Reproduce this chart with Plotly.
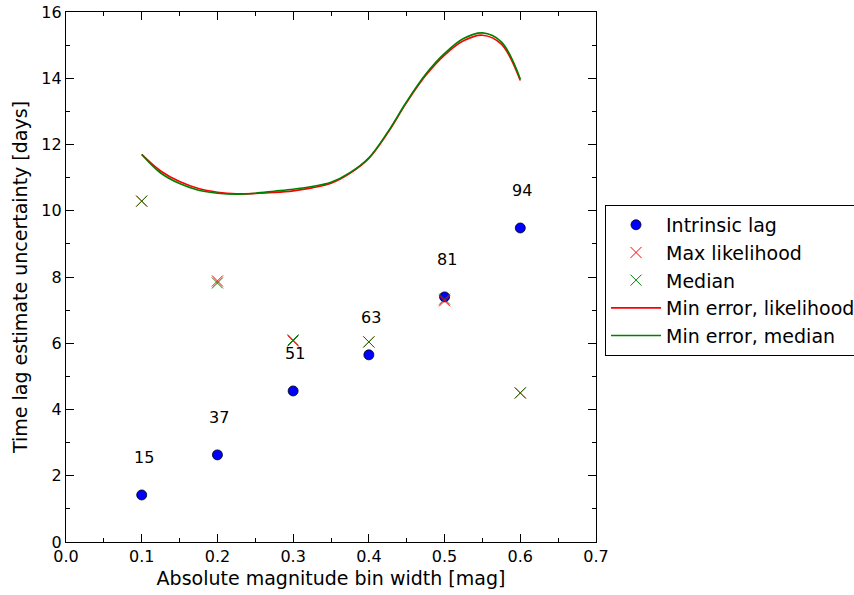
import plotly.graph_objects as go

# ---- data ----
bin_width = [0.1, 0.2, 0.3, 0.4, 0.5, 0.6]
intrinsic_lag = [1.42, 2.63, 4.56, 5.65, 7.40, 9.48]
max_likelihood = [10.29, 7.88, 6.07, 6.04, 7.28, 4.50]
median = [10.29, 7.82, 6.10, 6.04, 7.33, 4.50]
counts = ["15", "37", "51", "63", "81", "94"]
label_offset = 1.14

curve_x = [0.100, 0.125, 0.150, 0.175, 0.200, 0.225, 0.250, 0.275, 0.300, 0.325,
           0.350, 0.375, 0.400, 0.425, 0.450, 0.475, 0.500, 0.525, 0.550, 0.575, 0.600]
min_err_likelihood = [11.70, 11.20, 10.88, 10.67, 10.56, 10.51, 10.52, 10.55, 10.60, 10.69,
                      10.83, 11.13, 11.58, 12.35, 13.27, 14.08, 14.70, 15.13, 15.30, 15.03, 13.93]
min_err_median = [11.70, 11.14, 10.82, 10.62, 10.53, 10.50, 10.53, 10.59, 10.65, 10.73,
                  10.86, 11.15, 11.60, 12.38, 13.30, 14.12, 14.75, 15.20, 15.37, 15.10, 13.98]

x_ticks = [0.0, 0.1, 0.2, 0.3, 0.4, 0.5, 0.6, 0.7]
x_tick_labels = ["0.0", "0.1", "0.2", "0.3", "0.4", "0.5", "0.6", "0.7"]
y_ticks = [0, 2, 4, 6, 8, 10, 12, 14, 16]
y_tick_labels = ["0", "2", "4", "6", "8", "10", "12", "14", "16"]

FONT = "DejaVu Sans"

fig = go.Figure()
fig.add_trace(go.Scatter(
    x=bin_width, y=intrinsic_lag, mode="markers", name="Intrinsic lag",
    marker=dict(symbol="circle", size=10, color="#0000ff", line=dict(color="black", width=0.8)),
))
fig.add_trace(go.Scatter(
    x=bin_width, y=max_likelihood, mode="markers", name="Max likelihood",
    marker=dict(symbol="x-thin", size=11, color="#ff0000", line=dict(color="#ff0000", width=1)),
))
fig.add_trace(go.Scatter(
    x=bin_width, y=median, mode="markers", name="Median",
    marker=dict(symbol="x-thin", size=11, color="#008000", line=dict(color="#008000", width=1)),
))
fig.add_trace(go.Scatter(
    x=curve_x, y=min_err_likelihood, mode="lines", name="Min error, likelihood",
    line=dict(color="#ff0000", width=1.6, shape="spline"),
))
fig.add_trace(go.Scatter(
    x=curve_x, y=min_err_median, mode="lines", name="Min error, median",
    line=dict(color="#008000", width=1.6, shape="spline"),
))

for xv, yv, t in zip(bin_width, intrinsic_lag, counts):
    fig.add_annotation(x=xv, y=yv + label_offset, text=t, showarrow=False,
                       xanchor="center", yanchor="middle", xshift=2,
                       font=dict(family=FONT, size=16, color="black"))

axis_common = dict(
    showgrid=False, zeroline=False, showline=True, linecolor="black", linewidth=1.2,
    mirror="allticks", ticks="inside", ticklen=8, tickwidth=1, tickcolor="black",
    tickfont=dict(family=FONT, size=16, color="black"),
)

fig.update_xaxes(
    range=[0, 0.7], tickvals=x_ticks, ticktext=x_tick_labels,
    minor=dict(dtick=0.05, ticks="inside", ticklen=4, tickcolor="black", showgrid=False),
    title=dict(text="Absolute magnitude bin width [mag]", font=dict(family=FONT, size=19, color="black"), standoff=6),
    **axis_common,
)
fig.update_yaxes(
    range=[0, 16], tickvals=y_ticks, ticktext=y_tick_labels,
    minor=dict(dtick=1, ticks="inside", ticklen=4, tickcolor="black", showgrid=False),
    title=dict(text="Time lag estimate uncertainty [days]", font=dict(family=FONT, size=19, color="black"), standoff=8),
    **axis_common,
)

fig.update_layout(
    width=854, height=595,
    margin=dict(l=66, r=258, t=12, b=53, autoexpand=False),
    paper_bgcolor="white", plot_bgcolor="white",
    font=dict(family=FONT, size=16, color="black"),
    showlegend=True,
    legend=dict(
        x=1.017, y=0.636, xanchor="left", yanchor="top",
        bgcolor="white", bordercolor="black", borderwidth=1,
        font=dict(family=FONT, size=19, color="black"),
        itemwidth=50, tracegroupgap=0,
    ),
)

fig.write_html("out.html")
